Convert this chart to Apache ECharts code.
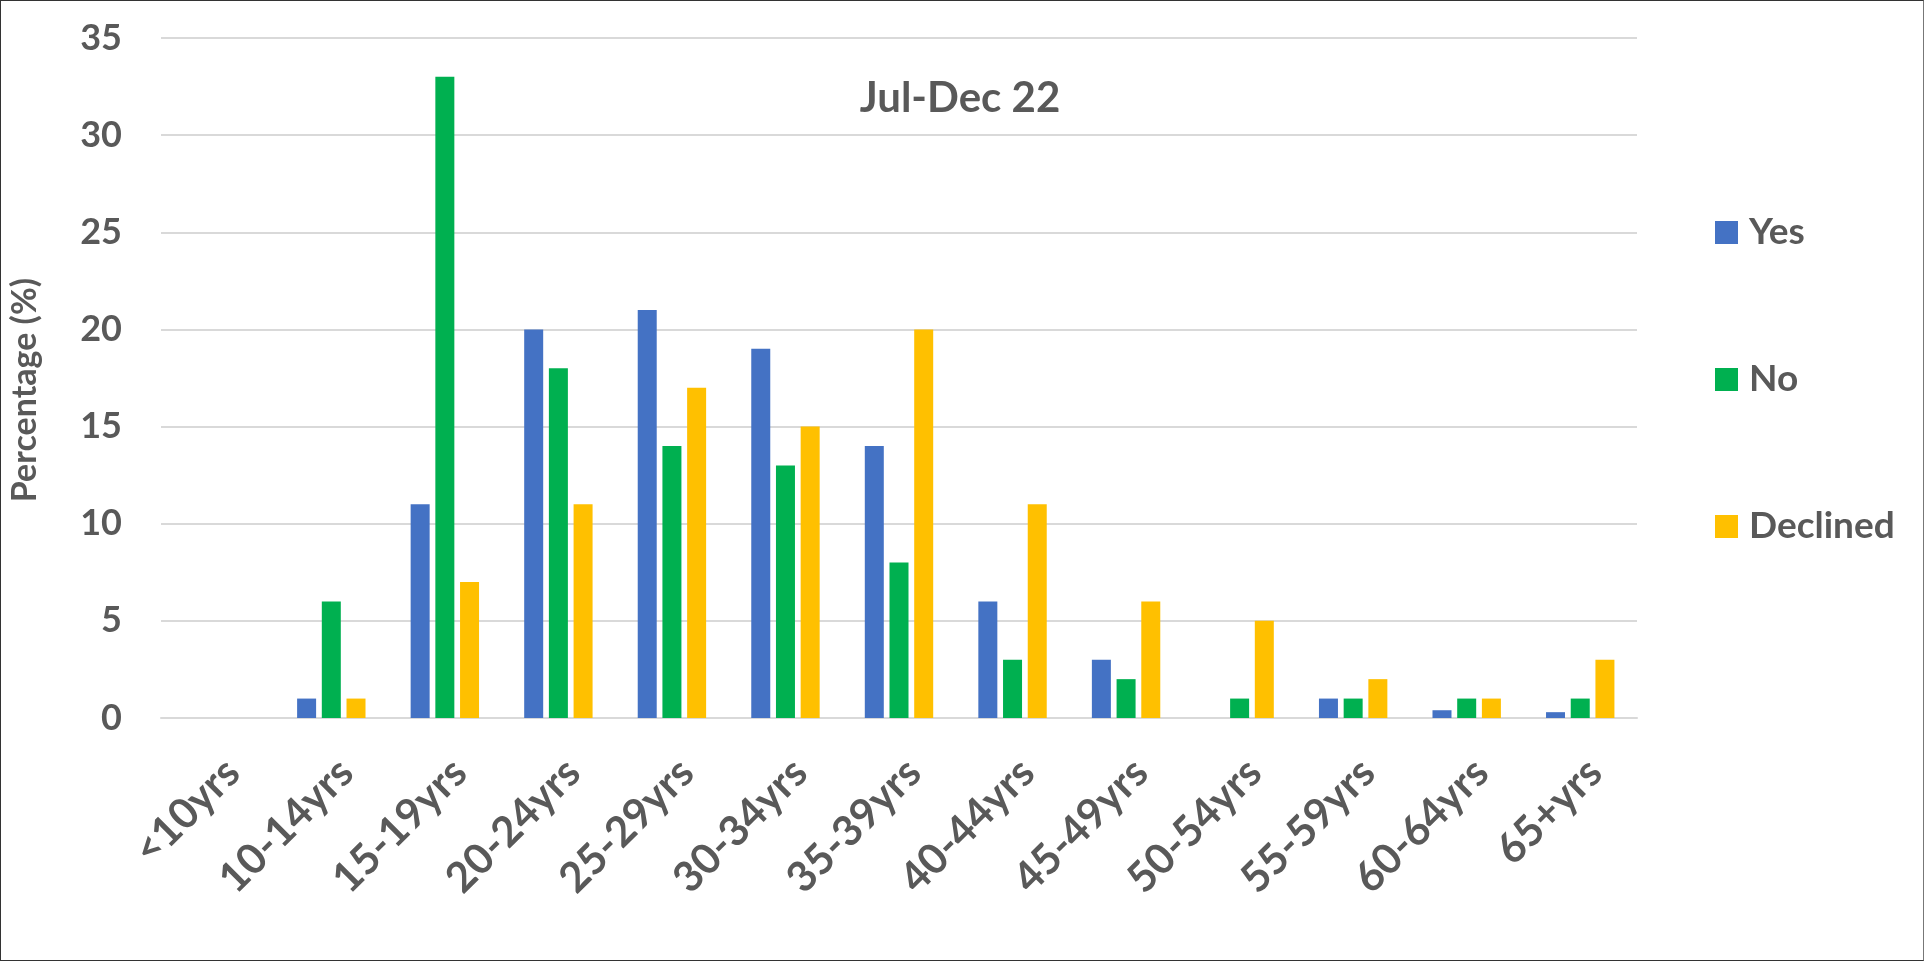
<!DOCTYPE html>
<html>
<head>
<meta charset="utf-8">
<script src="https://cdn.jsdelivr.net/npm/echarts@6/dist/echarts.min.js"></script>
<style>
html,body{margin:0;padding:0;background:#fff;}
#frame{position:absolute;left:0;top:0;width:1924px;height:961px;box-sizing:border-box;border:1px solid #333;border-right-color:#777;}
#chart{position:absolute;left:0;top:0;width:1924px;height:961px;}
</style>
</head>
<body>
<div id="chart"></div>
<div id="frame"></div>
<script>
const categories = ['<10yrs','10-14yrs','15-19yrs','20-24yrs','25-29yrs','30-34yrs','35-39yrs','40-44yrs','45-49yrs','50-54yrs','55-59yrs','60-64yrs','65+yrs'];
const yesValues = [0, 1, 11, 20, 21, 19, 14, 6, 3, 0, 1, 0.4, 0.3];
const noValues = [0, 6, 33, 18, 14, 13, 8, 3, 2, 1, 1, 1, 1];
const declinedValues = [0, 1, 7, 11, 17, 15, 20, 11, 6, 5, 2, 1, 3];
const yTicks = [0, 5, 10, 15, 20, 25, 30, 35];
const seriesNames = ['Yes', 'No', 'Declined'];
const seriesColors = ['#4472C4', '#00B050', '#FFC000'];

const textColor = '#595959';
const fontFamily = 'Lato';
const values = [yesValues, noValues, declinedValues];

const chart = echarts.init(document.getElementById('chart'), null, {renderer: 'canvas'});
chart.setOption({
  animation: false,
  backgroundColor: '#fff',
  title: {
    text: 'Jul-Dec 22',
    left: 955,
    textAlign: 'center',
    top: 72,
    textStyle: {fontFamily, fontWeight: 'bold', fontSize: 42, color: textColor}
  },
  legend: {
    orient: 'vertical',
    left: 1710,
    top: 209,
    itemWidth: 23,
    itemHeight: 23,
    itemGap: 110,
    icon: 'rect',
    data: seriesNames,
    textStyle: {fontFamily, fontWeight: 'bold', fontSize: 37, color: textColor, lineHeight: 36, padding: [0,0,0,6]}
  },
  grid: {left: 158, right: 287, top: 38, bottom: 243, containLabel: false},
  xAxis: {
    type: 'category',
    data: categories,
    axisLine: {show: true, lineStyle: {color: '#d9d9d9', width: 2}},
    axisTick: {show: false},
    axisLabel: {
      rotate: 45,
      interval: 0,
      margin: 33,
      verticalAlign: 'top',
      fontFamily, fontWeight: 'bold', fontSize: 42, color: textColor
    }
  },
  yAxis: {
    type: 'value',
    min: yTicks[0],
    max: yTicks[yTicks.length - 1],
    interval: 5,
    name: 'Percentage (%)',
    nameLocation: 'middle',
    nameGap: 119,
    nameRotate: 90,
    nameTextStyle: {fontFamily, fontWeight: 'bold', fontSize: 34, color: textColor, padding: [0, 24, 0, 0]},
    axisLine: {show: false},
    axisTick: {show: false},
    splitLine: {lineStyle: {color: '#d9d9d9', width: 2}},
    axisLabel: {margin: 39, fontFamily, fontWeight: 'bold', fontSize: 36, color: textColor}
  },
  series: seriesNames.map((name, i) => ({
    name,
    type: 'bar',
    data: values[i],
    barWidth: 19,
    barGap: '30%',
    itemStyle: {color: seriesColors[i]}
  }))
});
</script>
</body>
</html>
